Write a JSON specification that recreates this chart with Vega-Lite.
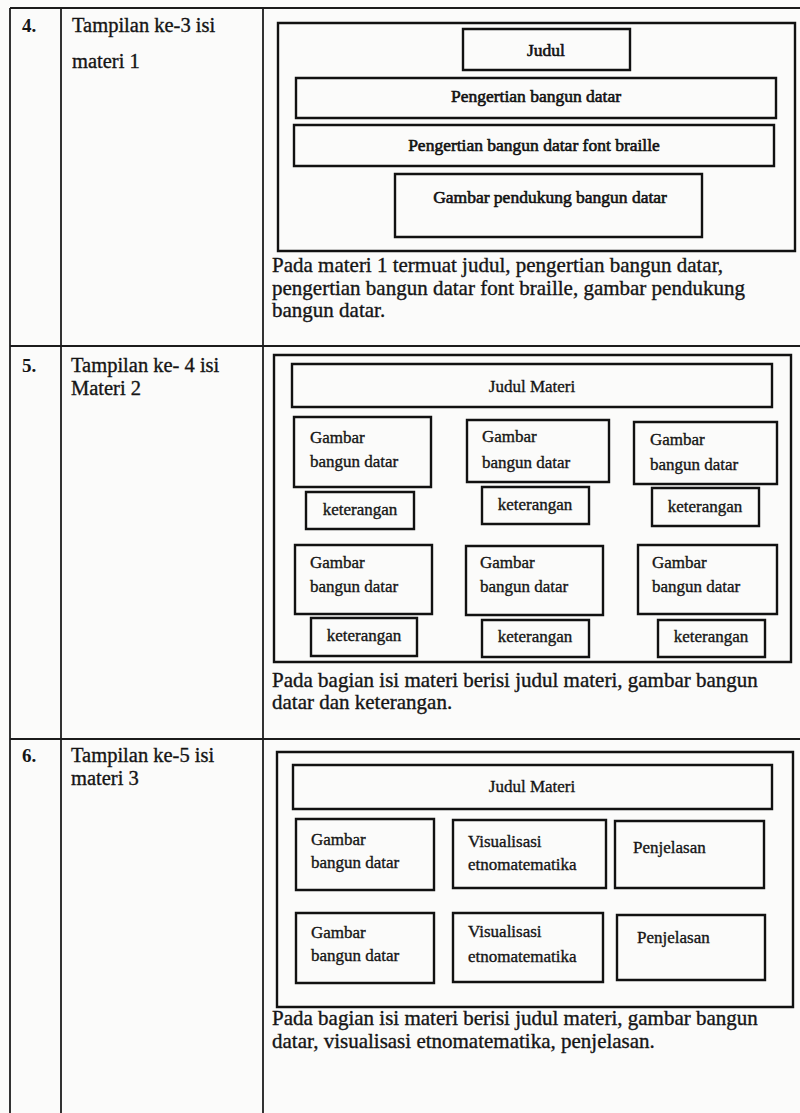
{
  "$schema": "https://vega.github.io/schema/vega-lite/v6.json",
  "width": 800,
  "height": 1113,
  "autosize": "none",
  "padding": 0,
  "background": "#fbfbfa",
  "config": {"view": {"stroke": null}},
  "datasets": {
    "lines": [
      {"x": 10, "x2": 800, "y": 8, "y2": 8},
      {"x": 10, "x2": 10, "y": 8, "y2": 1113},
      {"x": 61, "x2": 61, "y": 8, "y2": 1113},
      {"x": 263, "x2": 263, "y": 8, "y2": 1113},
      {"x": 10, "x2": 800, "y": 346, "y2": 346},
      {"x": 10, "x2": 800, "y": 739, "y2": 739}
    ],
    "boxes": [
      {"x": 278, "x2": 795, "y": 23, "y2": 251},
      {"x": 463, "x2": 630, "y": 29, "y2": 70},
      {"x": 296, "x2": 776, "y": 78, "y2": 118},
      {"x": 294, "x2": 774, "y": 125, "y2": 166},
      {"x": 395, "x2": 702, "y": 174, "y2": 237},
      {"x": 274, "x2": 791, "y": 355, "y2": 662},
      {"x": 292, "x2": 772, "y": 364, "y2": 407},
      {"x": 294, "x2": 431, "y": 417, "y2": 487},
      {"x": 467, "x2": 609, "y": 420, "y2": 482},
      {"x": 634, "x2": 777, "y": 422, "y2": 484},
      {"x": 306, "x2": 414, "y": 492, "y2": 529},
      {"x": 482, "x2": 589, "y": 487, "y2": 524},
      {"x": 652, "x2": 759, "y": 488, "y2": 526},
      {"x": 295, "x2": 432, "y": 545, "y2": 614},
      {"x": 466, "x2": 603, "y": 546, "y2": 615},
      {"x": 638, "x2": 777, "y": 545, "y2": 614},
      {"x": 311, "x2": 417, "y": 618, "y2": 656},
      {"x": 482, "x2": 589, "y": 620, "y2": 657},
      {"x": 658, "x2": 765, "y": 620, "y2": 657},
      {"x": 277, "x2": 793, "y": 752, "y2": 1007},
      {"x": 293, "x2": 772, "y": 765, "y2": 809},
      {"x": 296, "x2": 434, "y": 819, "y2": 890},
      {"x": 453, "x2": 606, "y": 820, "y2": 888},
      {"x": 615, "x2": 764, "y": 821, "y2": 888},
      {"x": 296, "x2": 434, "y": 913, "y2": 983},
      {"x": 453, "x2": 603, "y": 913, "y2": 982},
      {"x": 617, "x2": 765, "y": 915, "y2": 980}
    ],
    "headlabels": [
      {"t": "Judul", "x": 546, "y": 56},
      {"t": "Pengertian bangun datar", "x": 536, "y": 102},
      {"t": "Pengertian bangun datar font braille", "x": 534, "y": 151},
      {"t": "Gambar pendukung bangun datar", "x": 550, "y": 203}
    ],
    "centered": [
      {"t": "Judul Materi", "x": 532, "y": 392},
      {"t": "keterangan", "x": 360, "y": 515},
      {"t": "keterangan", "x": 535, "y": 510},
      {"t": "keterangan", "x": 705, "y": 512},
      {"t": "keterangan", "x": 364, "y": 641},
      {"t": "keterangan", "x": 535, "y": 642},
      {"t": "keterangan", "x": 711, "y": 642},
      {"t": "Judul Materi", "x": 532, "y": 792}
    ],
    "leftlabels": [
      {"t": "Gambar", "x": 310, "y": 443},
      {"t": "bangun datar", "x": 310, "y": 467},
      {"t": "Gambar", "x": 482, "y": 442},
      {"t": "bangun datar", "x": 482, "y": 468},
      {"t": "Gambar", "x": 650, "y": 445},
      {"t": "bangun datar", "x": 650, "y": 470},
      {"t": "Gambar", "x": 310, "y": 568},
      {"t": "bangun datar", "x": 310, "y": 592},
      {"t": "Gambar", "x": 480, "y": 568},
      {"t": "bangun datar", "x": 480, "y": 592},
      {"t": "Gambar", "x": 652, "y": 568},
      {"t": "bangun datar", "x": 652, "y": 592},
      {"t": "Gambar", "x": 311, "y": 845},
      {"t": "bangun datar", "x": 311, "y": 868},
      {"t": "Visualisasi", "x": 468, "y": 847},
      {"t": "etnomatematika", "x": 468, "y": 870},
      {"t": "Penjelasan", "x": 633, "y": 853},
      {"t": "Gambar", "x": 311, "y": 938},
      {"t": "bangun datar", "x": 311, "y": 961},
      {"t": "Visualisasi", "x": 468, "y": 937},
      {"t": "etnomatematika", "x": 468, "y": 962},
      {"t": "Penjelasan", "x": 637, "y": 943}
    ],
    "paragraphs": [
      {"t": "Pada materi 1 termuat judul, pengertian bangun datar,", "x": 272, "y": 272},
      {"t": "pengertian bangun datar font braille, gambar pendukung", "x": 272, "y": 295},
      {"t": "bangun datar.", "x": 272, "y": 317},
      {"t": "Pada bagian isi materi berisi judul materi, gambar bangun", "x": 272, "y": 687},
      {"t": "datar dan keterangan.", "x": 272, "y": 709},
      {"t": "Pada bagian isi materi berisi judul materi, gambar bangun", "x": 272, "y": 1025},
      {"t": "datar, visualisasi etnomatematika, penjelasan.", "x": 272, "y": 1048}
    ],
    "leftcol": [
      {"t": "Tampilan ke-3 isi", "x": 72, "y": 32},
      {"t": "materi 1", "x": 72, "y": 68},
      {"t": "Tampilan ke- 4 isi", "x": 71, "y": 372},
      {"t": "Materi 2", "x": 71, "y": 395},
      {"t": "Tampilan ke-5 isi", "x": 71, "y": 762},
      {"t": "materi 3", "x": 71, "y": 785}
    ],
    "numbers": [
      {"t": "4.", "x": 22, "y": 32},
      {"t": "5.", "x": 22, "y": 372},
      {"t": "6.", "x": 22, "y": 762}
    ]
  },
  "layer": [
    {
      "data": {"name": "lines"},
      "mark": {"type": "rule", "stroke": "#1c1c1c", "strokeWidth": 1.8},
      "encoding": {
        "x": {"field": "x", "type": "quantitative", "scale": {"domain": [0, 800]}, "axis": null},
        "x2": {"field": "x2"},
        "y": {"field": "y", "type": "quantitative", "scale": {"domain": [0, 1113], "reverse": true}, "axis": null},
        "y2": {"field": "y2"}
      }
    },
    {
      "data": {"name": "boxes"},
      "mark": {"type": "rect", "filled": false, "stroke": "#111111", "strokeWidth": 2.4},
      "encoding": {
        "x": {"field": "x", "type": "quantitative", "scale": {"domain": [0, 800]}, "axis": null},
        "x2": {"field": "x2"},
        "y": {"field": "y", "type": "quantitative", "scale": {"domain": [0, 1113], "reverse": true}, "axis": null},
        "y2": {"field": "y2"}
      }
    },
    {
      "data": {"name": "headlabels"},
      "mark": {"type": "text", "align": "center", "baseline": "alphabetic", "font": "Liberation Serif", "fontSize": 17.5, "fill": "#111111", "stroke": "#111111", "strokeWidth": 0.6},
      "encoding": {
        "x": {"field": "x", "type": "quantitative", "scale": {"domain": [0, 800]}, "axis": null},
        "y": {"field": "y", "type": "quantitative", "scale": {"domain": [0, 1113], "reverse": true}, "axis": null},
        "text": {"field": "t"}
      }
    },
    {
      "data": {"name": "centered"},
      "mark": {"type": "text", "align": "center", "baseline": "alphabetic", "font": "Liberation Serif", "fontSize": 17, "fill": "#151515", "stroke": "#151515", "strokeWidth": 0.35},
      "encoding": {
        "x": {"field": "x", "type": "quantitative", "scale": {"domain": [0, 800]}, "axis": null},
        "y": {"field": "y", "type": "quantitative", "scale": {"domain": [0, 1113], "reverse": true}, "axis": null},
        "text": {"field": "t"}
      }
    },
    {
      "data": {"name": "leftlabels"},
      "mark": {"type": "text", "align": "left", "baseline": "alphabetic", "font": "Liberation Serif", "fontSize": 17, "fill": "#151515", "stroke": "#151515", "strokeWidth": 0.35},
      "encoding": {
        "x": {"field": "x", "type": "quantitative", "scale": {"domain": [0, 800]}, "axis": null},
        "y": {"field": "y", "type": "quantitative", "scale": {"domain": [0, 1113], "reverse": true}, "axis": null},
        "text": {"field": "t"}
      }
    },
    {
      "data": {"name": "paragraphs"},
      "mark": {"type": "text", "align": "left", "baseline": "alphabetic", "font": "Liberation Serif", "fontSize": 21, "fill": "#151515", "stroke": "#151515", "strokeWidth": 0.35},
      "encoding": {
        "x": {"field": "x", "type": "quantitative", "scale": {"domain": [0, 800]}, "axis": null},
        "y": {"field": "y", "type": "quantitative", "scale": {"domain": [0, 1113], "reverse": true}, "axis": null},
        "text": {"field": "t"}
      }
    },
    {
      "data": {"name": "leftcol"},
      "mark": {"type": "text", "align": "left", "baseline": "alphabetic", "font": "Liberation Serif", "fontSize": 20.5, "fill": "#151515", "stroke": "#151515", "strokeWidth": 0.35},
      "encoding": {
        "x": {"field": "x", "type": "quantitative", "scale": {"domain": [0, 800]}, "axis": null},
        "y": {"field": "y", "type": "quantitative", "scale": {"domain": [0, 1113], "reverse": true}, "axis": null},
        "text": {"field": "t"}
      }
    },
    {
      "data": {"name": "numbers"},
      "mark": {"type": "text", "align": "left", "baseline": "alphabetic", "font": "Liberation Serif", "fontSize": 19, "fontWeight": "bold", "fill": "#151515"},
      "encoding": {
        "x": {"field": "x", "type": "quantitative", "scale": {"domain": [0, 800]}, "axis": null},
        "y": {"field": "y", "type": "quantitative", "scale": {"domain": [0, 1113], "reverse": true}, "axis": null},
        "text": {"field": "t"}
      }
    }
  ]
}
